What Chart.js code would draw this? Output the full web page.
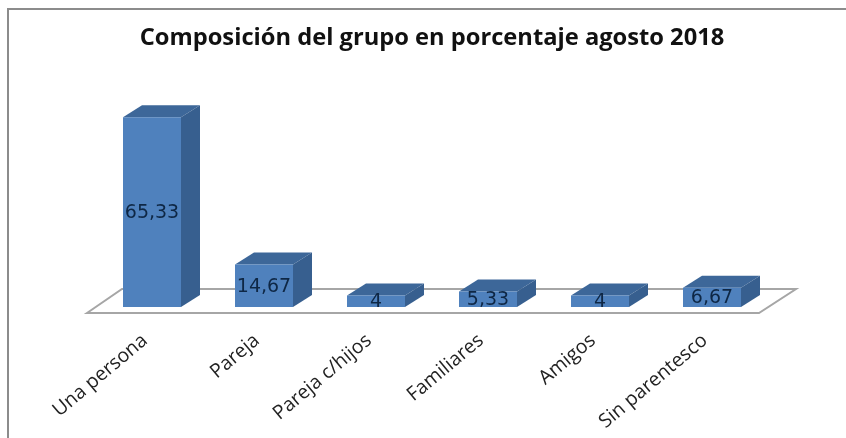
<!DOCTYPE html>
<html>
<head>
<meta charset="utf-8">
<style>
  html, body { margin: 0; padding: 0; background: #fff; }
  #wrap { width: 846px; height: 438px; position: relative; }
</style>
<script src="https://cdn.jsdelivr.net/npm/chart.js@4"></script>
</head>
<body>
<div id="wrap"><canvas id="id-chart" width="846" height="438"></canvas></div>
<script>
const categories = ['Una persona', 'Pareja', 'Pareja c/hijos', 'Familiares', 'Amigos', 'Sin parentesco'];
const values = [65.33, 14.67, 4, 5.33, 4, 6.67];
const value_labels = ['65,33', '14,67', '4', '5,33', '4', '6,67'];
const chart_title = 'Composición del grupo en porcentaje agosto 2018';

const DEPTH_X = 19;
const DEPTH_Y = -12;

function Poly(ctx, pts, fill, stroke)
{
  ctx.beginPath();
  pts.forEach((p, i) => i ? ctx.lineTo(p[0], p[1]) : ctx.moveTo(p[0], p[1]));
  ctx.closePath();
  if (fill) { ctx.fillStyle = fill; ctx.fill(); }
  if (stroke) { ctx.strokeStyle = stroke; ctx.lineWidth = 2; ctx.stroke(); }
}

// frame, floor and the 3d sides of the bars
const box_3d = 
{
  id: 'box3d',
  beforeDatasetsDraw(chart)
  {
    const ctx = chart.ctx;
    const y0 = chart.scales.y.getPixelForValue(0);
    const left = chart.chartArea.left;
    const right = chart.chartArea.right;

    ctx.save();
    ctx.strokeStyle = '#8c8c8c';
    ctx.lineWidth = 2;
    ctx.beginPath();
    ctx.moveTo(8, 438);
    ctx.lineTo(8, 9);
    ctx.lineTo(846, 9);
    ctx.stroke();

    Poly(ctx, [[left - 9, y0 + 6], [left + 26, y0 - 18], [right + 28, y0 - 18], [right - 9, y0 + 6]], null, '#a6a6a6');

    chart.getDatasetMeta(0).data.forEach(bar =>
    {
      const l = bar.x - bar.width / 2;
      const r = bar.x + bar.width / 2;
      Poly(ctx, [[l, bar.y], [l + DEPTH_X, bar.y + DEPTH_Y], [r + DEPTH_X, bar.y + DEPTH_Y], [r, bar.y]], '#3d6799');
      Poly(ctx, [[r, bar.y], [r + DEPTH_X, bar.y + DEPTH_Y], [r + DEPTH_X, y0 + DEPTH_Y], [r, y0]], '#375f8f');
    });
    ctx.restore();
  },
  afterDatasetsDraw(chart)
  {
    const ctx = chart.ctx;
    const y0 = chart.scales.y.getPixelForValue(0);
    ctx.save();
    ctx.font = '19px "DejaVu Sans"';
    ctx.fillStyle = '#0e2745';
    ctx.textAlign = 'center';
    ctx.textBaseline = 'middle';
    chart.getDatasetMeta(0).data.forEach((bar, i) =>
    {
      ctx.fillText(value_labels[i], bar.x, (bar.y + y0) / 2 + 1);
    });
    ctx.restore();
  }
};

const ctx = document.getElementById('id-chart').getContext('2d');

new Chart(ctx, 
{
  type: 'bar',
  data: 
  {
    labels: categories,
    datasets: 
    [
      {
        data: values,
        backgroundColor: '#4f81bd',
        barPercentage: 58 / 112,
        categoryPercentage: 1
      }
    ]
  },
  options: 
  {
    animation: false,
    responsive: false,
    layout: { padding: { left: 96, right: 78, top: 0, bottom: 0 } },
    plugins: 
    {
      legend: { display: false },
      tooltip: { enabled: false },
      title: 
      {
        display: true,
        text: chart_title,
        color: '#111111',
        font: { family: '"Open Sans"', size: 23.7, weight: 'bold' },
        padding: { top: 24, bottom: 0 }
      }
    },
    scales: 
    {
      x: 
      {
        offset: true,
        border: { display: false },
        grid: { display: false },
        afterFit(scale) { scale.height = 131; scale.paddingLeft = 0; scale.paddingRight = 0; },
        ticks: 
        {
          color: '#222222',
          maxRotation: 40,
          minRotation: 40,
          padding: 14,
          labelOffset: -7,
          font: { family: '"Open Sans"', size: 19.5 }
        }
      },
      y: 
      {
        display: false,
        min: 0,
        max: 87.7
      }
    }
  },
  plugins: [box_3d]
});
</script>
</body>
</html>
